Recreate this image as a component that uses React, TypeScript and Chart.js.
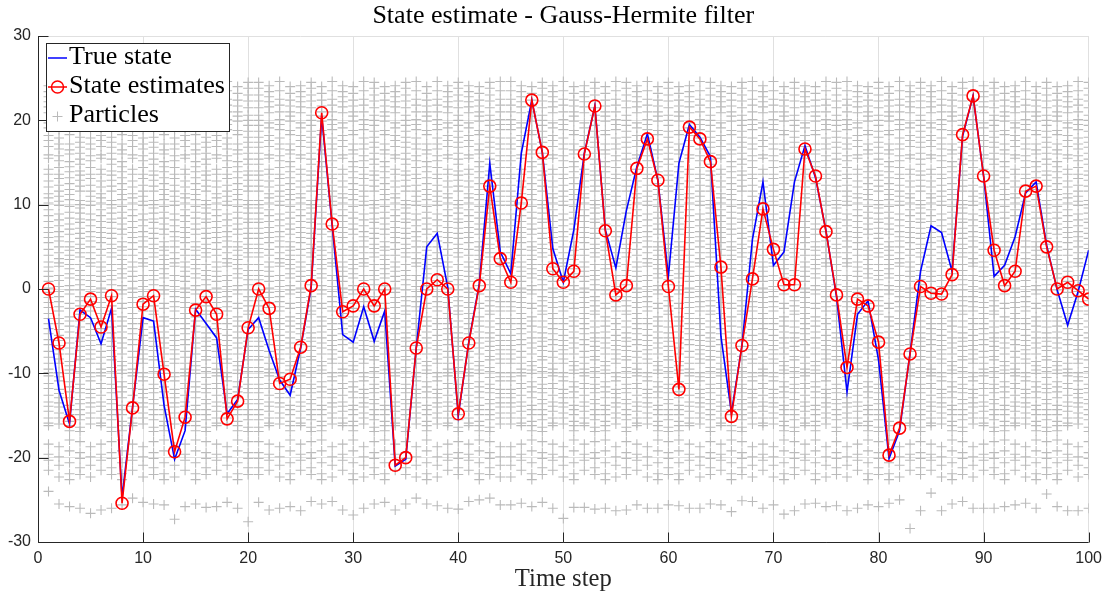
import React, { useEffect, useRef } from "react";
import { Chart, registerables } from "chart.js";

Chart.register(...registerables);

const timeSteps: number[] = Array.from({ length: 100 }, (_, i) => i + 1);

const trueState: number[] = [
  -3.5, -12.0, -16.0, -2.5, -3.4, -6.5, -2.3, -24.7, -14.0, -3.4,
  -3.8, -13.8, -20.2, -16.8, -2.4, -4.1, -5.8, -14.8, -13.1, -4.8,
  -3.4, -7.3, -10.8, -12.6, -7.0, 0.2, 20.5, 7.5, -5.4, -6.3,
  -2.1, -6.2, -2.6, -21.0, -20.2, -7.0, 5.0, 6.6, 0.2, -15.0,
  -6.3, 0.6, 14.9, 4.4, 1.8, 16.1, 22.4, 16.2, 4.8, 0.8,
  7.0, 16.1, 21.7, 7.0, 2.5, 9.3, 14.5, 18.4, 12.9, 1.5,
  14.9, 19.5, 18.0, 15.7, -5.6, -14.7, -6.7, 5.9, 12.7, 2.8,
  4.4, 12.7, 17.0, 13.2, 6.9, -0.9, -12.2, -3.0, -1.4, -8.4,
  -20.1, -16.8, -7.6, 2.1, 7.5, 6.7, 2.1, 18.1, 22.9, 13.4,
  1.5, 2.8, 6.2, 11.4, 12.7, 5.2, -0.1, -4.3, -0.3, 4.6,
];

const stateEstimates: number[] = [
  0.0, -6.4, -15.7, -3.0, -1.2, -4.5, -0.8, -25.4, -14.1, -1.8,
  -0.8, -10.1, -19.3, -15.2, -2.5, -0.9, -3.0, -15.4, -13.3, -4.6,
  0.0, -2.3, -11.2, -10.7, -6.9, 0.4, 20.9, 7.7, -2.7, -2.0,
  0.0, -2.0, 0.0, -20.9, -20.0, -7.0, 0.0, 1.1, 0.0, -14.8,
  -6.4, 0.4, 12.2, 3.6, 0.8, 10.2, 22.4, 16.2, 2.4, 0.8,
  2.1, 16.0, 21.7, 6.9, -0.7, 0.4, 14.3, 17.8, 12.9, 0.3,
  -11.9, 19.2, 17.8, 15.1, 2.6, -15.1, -6.7, 1.2, 9.5, 4.7,
  0.5, 0.5, 16.6, 13.4, 6.8, -0.7, -9.3, -1.2, -2.0, -6.3,
  -19.7, -16.5, -7.7, 0.3, -0.5, -0.6, 1.7, 18.3, 22.9, 13.4,
  4.6, 0.4, 2.1, 11.6, 12.2, 5.0, 0.0, 0.8, -0.2, -1.2,
];

// particle clouds: a few column patterns
const particleCoreA: number[] = [
  24.1, 22.8, 22.2, 20.9, 19.7, 19.1, 17.6, 16.9, 15.5, 14.2, 13.6, 12.1,
  11.3, 10.2, 9.4, 8.0, 7.3, 6.1, 5.5, 4.0, 3.2, 2.1, 0.9, 0.1, -1.0, -2.2,
  -2.9, -4.1, -5.3, -6.0, -7.4, -8.1, -9.5, -10.3, -11.2, -12.6, -13.4,
  -14.5, -15.3, -16.2,
  23.4, 21.6, 18.2, 15.9, 12.8, 10.8, 8.7, 6.7, 4.7, 2.6, 1.5, -0.4, -1.6,
  -3.5, -4.7, -6.6, -8.8, -9.9, -11.8, -13.9, -15.9,
];
const particleCoreB: number[] = [
  23.2, 21.7, 20.5, 19.9, 18.3, 17.2, 16.0, 15.1, 13.9, 12.5, 11.8, 10.6,
  9.1, 8.4, 7.7, 6.5, 5.0, 4.6, 3.5, 2.4, 1.3, 0.4, -0.6, -1.7, -3.3, -3.8,
  -5.1, -6.4, -7.0, -8.6, -9.1, -10.0, -11.6, -12.2, -13.8, -14.9, -15.7,
  -16.8,
  24.0, 22.4, 21.0, 18.8, 16.5, 14.5, 13.2, 11.2, 9.8, 7.1, 5.6, 4.0, 2.9,
  1.8, -0.1, -2.3, -4.4, -5.8, -7.7, -9.6, -11.0, -12.9, -14.3, -16.2,
];
const particleCoreC: number[] = [
  24.6, 22.5, 21.0, 20.1, 18.9, 17.9, 16.6, 15.8, 14.4, 13.1, 12.3, 11.0,
  9.9, 8.9, 7.5, 6.8, 5.7, 4.3, 3.6, 2.7, 1.6, 0.3, -0.3, -1.5, -2.6, -3.5,
  -4.8, -5.5, -6.7, -7.7, -8.8, -9.9, -10.9, -11.9, -12.9, -14.0, -14.7,
  -16.0,
  23.5, 21.8, 19.5, 17.2, 15.2, 13.6, 11.6, 10.4, 8.2, 6.2, 5.0, 3.1, 1.0,
  -0.9, -2.1, -4.1, -6.1, -7.2, -8.3, -10.4, -12.4, -13.5, -15.3,
];
const particleCoreD: number[] = [
  23.8, 23.0, 21.5, 20.6, 19.4, 18.0, 17.4, 16.1, 14.8, 14.0, 12.9, 11.6,
  10.5, 9.6, 8.3, 7.9, 6.6, 5.3, 4.8, 3.8, 2.2, 1.1, -0.1, -0.9, -2.0, -3.0,
  -4.5, -5.2, -6.2, -7.3, -8.4, -9.3, -10.5, -11.3, -12.3, -13.1, -14.3,
  -15.5, -16.4,
  24.5, 22.3, 20.0, 18.7, 16.8, 15.4, 13.5, 12.2, 10.0, 9.0, 7.2, 6.0, 4.3,
  2.9, 1.6, 0.5, -1.4, -2.6, -3.8, -5.8, -6.8, -8.0, -9.8, -11.8, -13.6,
  -14.9, -16.9,
];
const particleMidA: number[] = [-18.4, -19.6, -20.3, -21.5];
const particleMidB: number[] = [-17.9, -19.2, -20.6, -21.9, -22.6];
const particleMidC: number[] = [-18.7, -19.9, -20.9, -22.3];
const particleMidD: number[] = [-18.1, -19.4, -20.1, -21.2, -22.0];

const particlePatternOfStep: number[] = [
  0, 2, 1, 3, 2, 0, 3, 1, 0, 2,
  3, 1, 2, 0, 1, 3, 0, 2, 1, 3,
  3, 0, 2, 1, 0, 3, 1, 2, 0, 1,
  2, 3, 1, 0, 3, 2, 1, 2, 0, 3,
  0, 1, 3, 2, 2, 0, 1, 3, 0, 2,
  1, 0, 3, 1, 2, 3, 0, 2, 1, 3,
  1, 0, 2, 3, 0, 1, 3, 2, 0, 2,
  1, 3, 0, 1, 2, 3, 2, 0, 1, 3,
  1, 2, 0, 3, 0, 2, 1, 3, 2, 0,
  3, 1, 0, 2, 1, 3, 1, 0, 2, 3,
];

const particleLow: number[] = [
  -24.0, -25.5, -25.8, -26.0, -26.6, -26.2, -26.0, -25.6, -24.8, -25.3,
  -25.5, -25.6, -27.3, -25.8, -25.5, -25.9, -25.8, -25.3, -26.0, -27.6,
  -25.3, -26.2, -26.0, -25.8, -26.3, -25.2, -25.5, -25.2, -26.2, -26.8,
  -26.0, -25.5, -25.3, -26.2, -25.5, -24.8, -25.5, -25.7, -26.0, -26.1,
  -25.2, -25.0, -24.8, -25.6, -25.6, -25.4, -25.8, -25.3, -26.0, -27.2,
  -25.9, -25.9, -26.1, -26.0, -26.3, -26.2, -25.6, -26.0, -26.0, -25.6,
  -25.7, -26.0, -26.0, -25.5, -25.6, -26.4, -25.1, -25.2, -26.0, -25.6,
  -26.7, -26.3, -25.5, -25.4, -25.8, -25.7, -26.3, -26.0, -25.6, -25.8,
  -25.4, -25.0, -28.4, -26.3, -24.2, -26.3, -25.5, -25.2, -26.0, -26.0,
  -26.0, -25.8, -25.6, -25.4, -26.0, -24.3, -25.8, -26.3, -26.3, -26.0,
];

const xTickValues: number[] = [0, 10, 20, 30, 40, 50, 60, 70, 80, 90, 100];
const yTickValues: number[] = [-30, -20, -10, 0, 10, 20, 30];

const titleText = "State estimate - Gauss-Hermite filter";
const xAxisTitle = "Time step";
const legendLabels: string[] = ["True state", "State estimates", "Particles"];

const SERIF = '"Liberation Serif", "DejaVu Serif", serif';
const SANS = '"Liberation Sans", Arial, sans-serif';
const GRAY = "#bababa";

function fitFont(ctx: CanvasRenderingContext2D, text: string, target: number) {
  ctx.font = `20px ${SERIF}`;
  const w = ctx.measureText(text).width;
  const size = (20 * target) / w;
  ctx.font = `${size}px ${SERIF}`;
  return size;
}

const decorPlugin = {
  id: "decor",
  afterDraw(chart: any) {
    const ctx: CanvasRenderingContext2D = chart.ctx;
    const { left, right, top, bottom } = chart.chartArea;
    const xs = chart.scales.x;
    const ys = chart.scales.y;
    ctx.save();
    // axes + inward ticks
    ctx.strokeStyle = "#262626";
    ctx.lineWidth = 1;
    ctx.beginPath();
    const lx = Math.round(left) + 0.5;
    const by = Math.round(bottom) + 0.5;
    ctx.moveTo(lx, top);
    ctx.lineTo(lx, by);
    ctx.lineTo(right, by);
    for (const v of yTickValues) {
      const y = Math.round(ys.getPixelForValue(v)) + 0.5;
      ctx.moveTo(lx, y);
      ctx.lineTo(lx + 10, y);
    }
    for (const v of xTickValues) {
      const x = Math.round(xs.getPixelForValue(v)) + 0.5;
      ctx.moveTo(x, by);
      ctx.lineTo(x, by - 10);
    }
    ctx.stroke();

    // title
    ctx.fillStyle = "#000";
    ctx.textAlign = "center";
    ctx.textBaseline = "alphabetic";
    fitFont(ctx, titleText, 382);
    ctx.fillText(titleText, (left + right) / 2, 23);
    ctx.fillStyle = "#262626";
    fitFont(ctx, xAxisTitle, 97);
    ctx.fillText(xAxisTitle, (left + right) / 2, 586);

    // legend
    const bx = 46, btop = 43, bw = 183, bh = 88;
    ctx.fillStyle = "#ffffff";
    ctx.fillRect(bx, btop, bw, bh);
    ctx.strokeStyle = "#262626";
    ctx.lineWidth = 1;
    ctx.strokeRect(bx + 0.5, btop + 0.5, bw, bh);
    const rows = [58, 87, 116];
    ctx.lineWidth = 1.5;
    ctx.strokeStyle = "#0000ff";
    ctx.beginPath();
    ctx.moveTo(48, rows[0]);
    ctx.lineTo(67, rows[0]);
    ctx.stroke();
    ctx.strokeStyle = "#ff0000";
    ctx.beginPath();
    ctx.moveTo(48, rows[1]);
    ctx.lineTo(67, rows[1]);
    ctx.stroke();
    ctx.beginPath();
    ctx.arc(57.5, rows[1], 6, 0, Math.PI * 2);
    ctx.stroke();
    ctx.strokeStyle = GRAY;
    ctx.lineWidth = 1;
    ctx.beginPath();
    ctx.moveTo(52.5, rows[2] + 0.5);
    ctx.lineTo(62.5, rows[2] + 0.5);
    ctx.moveTo(57.5, rows[2] - 4.5);
    ctx.lineTo(57.5, rows[2] + 5.5);
    ctx.stroke();

    ctx.fillStyle = "#000";
    ctx.textAlign = "left";
    const size = fitFont(ctx, legendLabels[1], 156);
    ctx.font = `${size}px ${SERIF}`;
    ctx.fillText(legendLabels[0], 69, 64);
    ctx.fillText(legendLabels[1], 69, 93);
    ctx.fillText(legendLabels[2], 69, 122);
    ctx.restore();
  },
};

export default function App() {
  const ref = useRef<HTMLCanvasElement | null>(null);

  useEffect(() => {
    document.body.style.margin = "0";
    document.body.style.overflow = "hidden";
    const canvas = ref.current;
    if (!canvas) return;

    const coreSets = [particleCoreA, particleCoreB, particleCoreC, particleCoreD];
    const midSets = [particleMidA, particleMidB, particleMidC, particleMidD];
    const particles: { x: number; y: number }[] = [];
    timeSteps.forEach((t, i) => {
      const p = particlePatternOfStep[i];
      for (const v of coreSets[p]) particles.push({ x: t, y: v });
      for (const v of midSets[p]) particles.push({ x: t, y: v });
      particles.push({ x: t, y: particleLow[i] });
    });

    const chart = new Chart(canvas, {
      type: "scatter",
      data: {
        datasets: [
          {
            type: "line",
            label: "State estimates",
            data: stateEstimates.map((v, i) => ({ x: timeSteps[i], y: v })),
            borderColor: "#ff0000",
            borderWidth: 1.6,
            pointStyle: "circle",
            pointRadius: 6,
            pointBorderWidth: 1.6,
            pointBorderColor: "#ff0000",
            pointBackgroundColor: "rgba(0,0,0,0)",
            tension: 0,
            order: 0,
          } as any,
          {
            type: "line",
            label: "True state",
            data: trueState.map((v, i) => ({ x: timeSteps[i], y: v })),
            borderColor: "#0000ff",
            borderWidth: 1.6,
            pointRadius: 0,
            tension: 0,
            order: 1,
          } as any,
          {
            type: "scatter",
            label: "Particles",
            data: particles,
            pointStyle: "cross",
            pointRadius: 5,
            borderColor: GRAY,
            backgroundColor: GRAY,
            borderWidth: 1.1,
            order: 2,
          } as any,
        ],
      },
      options: {
        animation: false,
        responsive: false,
        events: [],
        layout: { padding: { top: 36, right: 20, left: 0, bottom: 0 } },
        plugins: {
          legend: { display: false },
          title: { display: false },
          tooltip: { enabled: false },
        },
        scales: {
          x: {
            type: "linear",
            min: 0,
            max: 100,
            afterFit: (s: any) => {
              s.height = 50;
            },
            afterBuildTicks: (s: any) => {
              s.ticks = xTickValues.map((v) => ({ value: v }));
            },
            grid: { color: "#e0e0e0", drawTicks: false, lineWidth: 1 },
            border: { display: false },
            ticks: {
              padding: 7,
              maxRotation: 0,
              minRotation: 0,
              color: "#262626",
              font: { family: SANS, size: 16 },
            },
          },
          y: {
            type: "linear",
            min: -30,
            max: 30,
            afterFit: (s: any) => {
              s.width = 38;
            },
            afterBuildTicks: (s: any) => {
              s.ticks = yTickValues.map((v) => ({ value: v }));
            },
            grid: { color: "#e0e0e0", drawTicks: false, lineWidth: 1 },
            border: { display: false },
            ticks: {
              padding: 7,
              color: "#262626",
              font: { family: SANS, size: 16 },
            },
          },
        },
      },
      plugins: [decorPlugin],
    });
    return () => chart.destroy();
  }, []);

  return <canvas ref={ref} width={1109} height={592} style={{ display: "block", width: 1109, height: 592 }} />;
}
